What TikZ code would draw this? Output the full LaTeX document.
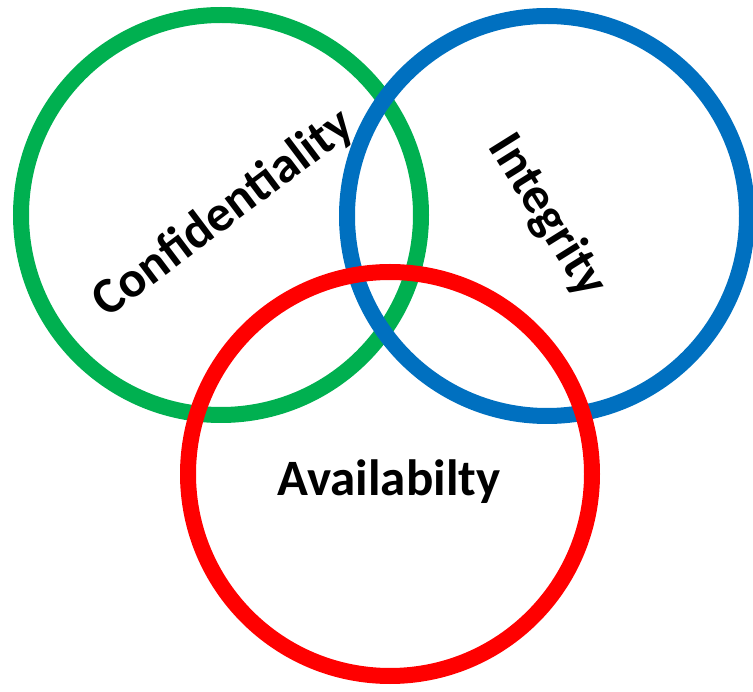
\documentclass[tikz,border=0pt]{standalone}
\usepackage{fontspec}
\setmainfont{Carlito}
\definecolor{ringgreen}{RGB}{0,176,80}
\definecolor{ringblue}{RGB}{0,112,192}
\definecolor{ringred}{RGB}{255,0,0}
\tikzset{
  ring/.style={line width=16pt},
  word/.style={font=\fontsize{51}{60}\selectfont\bfseries, inner sep=0pt}
}
\begin{document}
\begin{tikzpicture}[x=1pt,y=-1pt]
    \useasboundingbox (0,0) rectangle (753,692);
    \draw[ring, ringgreen] (221,215) circle (200pt);
    \draw[ring, ringblue]  (547,216) circle (200pt);
    \draw[ring, ringred]   (390,474) circle (202pt);

    \node[word, rotate=37]  (conf)  at (224,214) {Confidentiality};
    \node[word, rotate=-58] (integ) at (547,216) {Integrity};
    \node[word]             (avail) at (389,482) {Availabilty};
\end{tikzpicture}
\end{document}
